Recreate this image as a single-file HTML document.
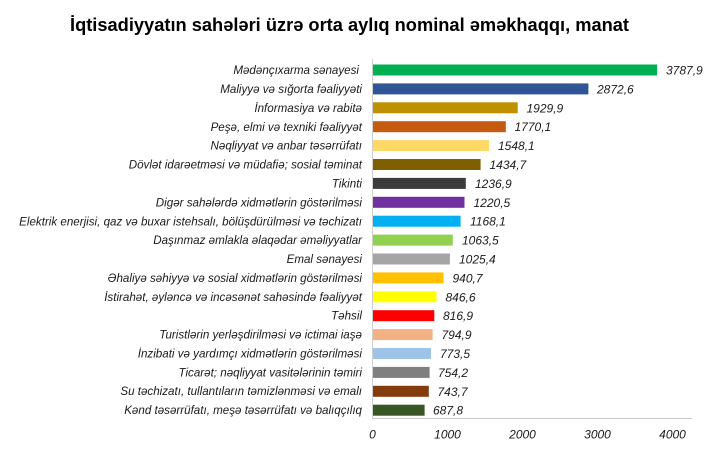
<!DOCTYPE html>
<html><head><meta charset="utf-8"><style>
html,body{margin:0;padding:0;background:#fff;}
svg{display:block;}
</style></head><body>
<svg width="727" height="451" viewBox="0 0 727 451" xmlns="http://www.w3.org/2000/svg">
<rect width="727" height="451" fill="#fff"/>
<text x="70" y="31" font-family="Liberation Sans, Arial, sans-serif" font-weight="bold" font-size="18.5" fill="#000" textLength="559" lengthAdjust="spacingAndGlyphs">İqtisadiyyatın sahələri üzrə orta aylıq nominal əməkhaqqı, manat</text>
<line x1="372.5" y1="59" x2="372.5" y2="419" stroke="#d0d0d0" stroke-width="1"/>
<line x1="372" y1="418.5" x2="692" y2="418.5" stroke="#c8c8c8" stroke-width="1"/>
<g font-family="Liberation Sans, Arial, sans-serif" font-style="italic" font-size="11.6" fill="#1a1a1a" text-anchor="end">
<text x="359" y="74">Mədənçıxarma sənayesi</text>
<text x="362" y="93">Maliyyə və sığorta fəaliyyəti</text>
<text x="362" y="112">İnformasiya və rabitə</text>
<text x="362" y="131">Peşə, elmi və texniki fəaliyyət</text>
<text x="362" y="149.5">Nəqliyyat və anbar təsərrüfatı</text>
<text x="362" y="168.5">Dövlət idarəetməsi və müdafiə; sosial təminat</text>
<text x="362" y="187.5">Tikinti</text>
<text x="362" y="206.5">Digər sahələrdə xidmətlərin göstərilməsi</text>
<text x="362" y="225.5">Elektrik enerjisi, qaz və buxar istehsalı, bölüşdürülməsi və təchizatı</text>
<text x="362" y="244">Daşınmaz əmlakla əlaqədar əməliyyatlar</text>
<text x="362" y="263">Emal sənayesi</text>
<text x="362" y="282">Əhaliyə səhiyyə və sosial xidmətlərin göstərilməsi</text>
<text x="362" y="301">İstirahət, əyləncə və incəsənət sahəsində fəaliyyət</text>
<text x="362" y="319.5">Təhsil</text>
<text x="362" y="338.5">Turistlərin yerləşdirilməsi və ictimai iaşə</text>
<text x="362" y="357.5">İnzibati və yardımçı xidmətlərin göstərilməsi</text>
<text x="362" y="376.5">Ticarət; nəqliyyat vasitələrinin təmiri</text>
<text x="362" y="395">Su təchizatı, tullantıların təmizlənməsi və emalı</text>
<text x="362" y="414">Kənd təsərrüfatı, meşə təsərrüfatı və balıqçılıq</text>
</g>
<g>
<rect x="373" y="64.5" width="284.1" height="11" fill="#00B050"/>
<rect x="373" y="83.4" width="215.4" height="11" fill="#2F5597"/>
<rect x="373" y="102.3" width="144.7" height="11" fill="#BF9000"/>
<rect x="373" y="121.2" width="132.8" height="11" fill="#C55A11"/>
<rect x="373" y="140.1" width="116.1" height="11" fill="#FFD966"/>
<rect x="373" y="159.0" width="107.6" height="11" fill="#7F6000"/>
<rect x="373" y="177.9" width="92.8" height="11" fill="#3B3B3B"/>
<rect x="373" y="196.8" width="91.5" height="11" fill="#7030A0"/>
<rect x="373" y="215.7" width="87.6" height="11" fill="#00B0F0"/>
<rect x="373" y="234.6" width="79.8" height="11" fill="#92D050"/>
<rect x="373" y="253.5" width="76.9" height="11" fill="#A5A5A5"/>
<rect x="373" y="272.4" width="70.6" height="11" fill="#FFC000"/>
<rect x="373" y="291.3" width="63.5" height="11" fill="#FFFF00"/>
<rect x="373" y="310.2" width="61.3" height="11" fill="#FF0000"/>
<rect x="373" y="329.1" width="59.6" height="11" fill="#F4B183"/>
<rect x="373" y="348.0" width="58.0" height="11" fill="#9DC3E6"/>
<rect x="373" y="366.9" width="56.6" height="11" fill="#7F7F7F"/>
<rect x="373" y="385.8" width="55.8" height="11" fill="#843C0C"/>
<rect x="373" y="404.7" width="51.6" height="11" fill="#375623"/>
</g>
<g font-family="Liberation Sans, Arial, sans-serif" font-style="italic" font-size="12" fill="#1a1a1a">
<text x="666" y="74.5">3787,9</text>
<text x="597" y="93.4">2872,6</text>
<text x="526.5" y="112.3">1929,9</text>
<text x="514.5" y="131.2">1770,1</text>
<text x="498" y="150.1">1548,1</text>
<text x="489.5" y="169">1434,7</text>
<text x="475" y="187.9">1236,9</text>
<text x="473.5" y="206.8">1220,5</text>
<text x="470" y="225.7">1168,1</text>
<text x="462" y="244.6">1063,5</text>
<text x="459" y="263.5">1025,4</text>
<text x="452.5" y="282.4">940,7</text>
<text x="445.5" y="301.3">846,6</text>
<text x="443" y="320.2">816,9</text>
<text x="441.5" y="339.1">794,9</text>
<text x="440" y="358">773,5</text>
<text x="438" y="376.9">754,2</text>
<text x="437.5" y="395.8">743,7</text>
<text x="433" y="414.7">687,8</text>
</g>
<g font-family="Liberation Sans, Arial, sans-serif" font-style="italic" font-size="12" fill="#1a1a1a" text-anchor="middle">
<text x="372.5" y="438.5">0</text>
<text x="447.5" y="438.5">1000</text>
<text x="522.5" y="438.5">2000</text>
<text x="597.5" y="438.5">3000</text>
<text x="672.5" y="438.5">4000</text>
</g>
</svg>
</body></html>
